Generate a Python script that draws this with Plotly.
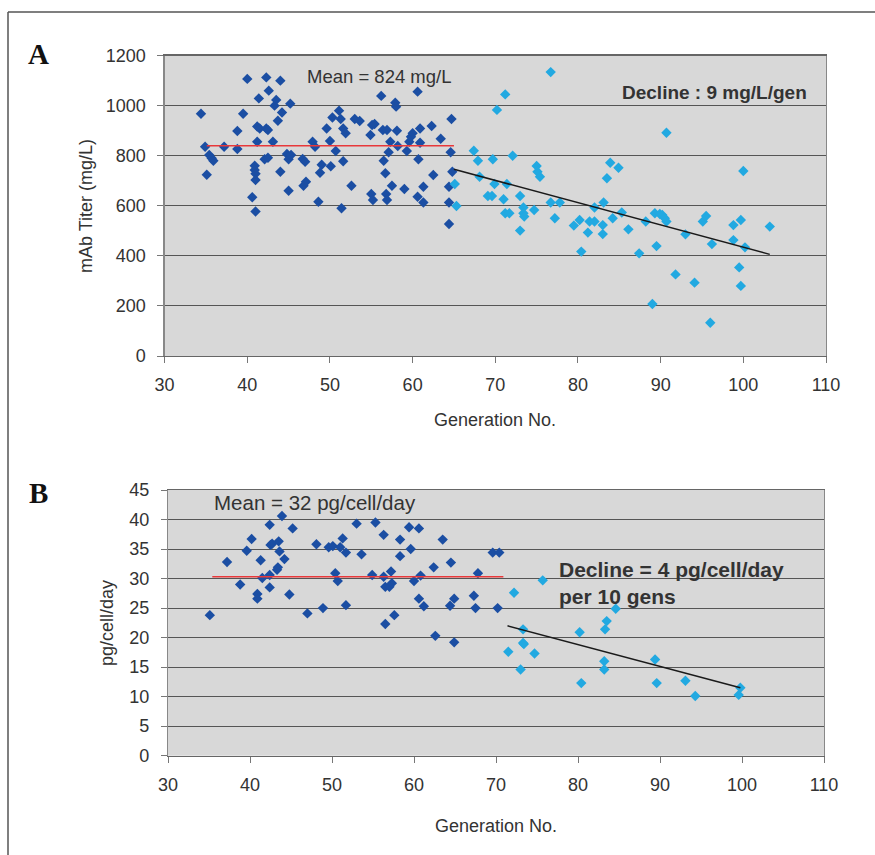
import plotly.graph_objects as go

# ---------------- Panel A data ----------------
gen_a_early = [34.4, 34.9, 35.1, 35.4, 35.7, 35.9, 37.2, 38.8, 38.8, 39.5, 40.0, 40.6, 41.0, 40.9, 40.9,
               41.0, 41.0, 41.2, 41.5, 41.2, 41.4, 42.3, 42.3, 42.5, 42.6, 42.1, 42.5, 43.1, 43.3, 43.5,
               43.7, 44.0, 44.2, 44.0, 44.8, 45.0, 45.3, 45.0, 45.2, 46.7, 47.0, 46.8, 47.1, 47.9, 48.2,
               48.6, 48.8, 49.0, 49.6, 50.0, 50.3, 50.7, 50.1, 51.1, 51.3, 51.6, 51.9, 51.6, 51.4, 52.6,
               53.0, 53.6, 54.9, 55.1, 55.4, 56.2, 56.4, 56.9, 55.0, 55.2, 56.5, 56.7, 56.8, 56.9, 57.3,
               57.1, 57.5, 57.9, 58.0, 58.1, 58.2, 59.0, 59.3, 59.6, 59.8, 60.0, 60.6, 60.9, 60.9, 60.7,
               60.6, 61.3, 61.3, 62.3, 62.5, 63.4, 64.7, 64.6, 64.8, 64.4, 64.4, 64.4]
titer_a_early = [968, 836, 724, 803, 790, 780, 836, 827, 899, 968, 1107, 634, 577, 760, 743,
                 728, 703, 917, 909, 856, 1029, 1113, 909, 903, 1060, 786, 792, 856, 1000, 1023,
                 940, 1100, 973, 736, 807, 786, 803, 660, 1008, 787, 776, 680, 696, 856, 836,
                 616, 732, 764, 909, 859, 953, 819, 758, 980, 947, 909, 890, 778, 590, 680,
                 947, 939, 883, 923, 927, 1039, 903, 903, 647, 623, 780, 730, 647, 623, 856,
                 814, 680, 1012, 996, 900, 839, 667, 819, 856, 876, 890, 1056, 909, 852, 786,
                 636, 676, 613, 919, 723, 868, 947, 814, 736, 676, 613, 527]

gen_a_late = [65.1, 65.3, 67.4, 67.9, 68.1, 69.7, 69.9, 69.1, 69.6, 70.2, 71.2, 71.0, 71.2, 71.7, 71.4,
              72.1, 73.0, 73.0, 73.4, 73.4, 73.5, 74.7, 75.0, 75.1, 75.4, 76.7, 76.7, 77.2, 77.8, 79.5,
              80.2, 80.4, 81.2, 81.4, 82.0, 82.0, 83.0, 83.0, 83.1, 83.5, 83.9, 84.9, 84.2, 85.3, 86.1,
              87.4, 88.2, 89.3, 89.5, 89.0, 89.9, 90.2, 90.5, 90.7, 90.7, 91.8, 93.0, 94.1, 95.1, 95.5,
              96.2, 96.0, 98.8, 98.8, 99.5, 99.7, 99.7, 100.0, 100.2, 103.2]
titer_a_late = [687, 599, 820, 780, 716, 786, 687, 639, 639, 983, 1045, 626, 570, 570, 687,
                800, 639, 501, 593, 570, 557, 583, 759, 736, 716, 1134, 613, 550, 613, 521,
                543, 417, 493, 537, 537, 593, 487, 523, 613, 710, 772, 752, 550, 573, 506,
                410, 537, 570, 439, 208, 567, 563, 550, 537, 892, 326, 486, 293, 537, 559,
                447, 133, 523, 463, 354, 543, 280, 739, 434, 517]

mean_a_x = [35.1, 65.0]
mean_a_y = [840, 840]
trend_a_x = [65.0, 103.2]
trend_a_y = [746, 406]

# ---------------- Panel B data ----------------
gen_b_early = [35.1, 37.2, 38.8, 39.6, 40.2, 40.9, 40.9, 41.3, 41.5, 42.4, 42.5, 42.7, 42.4, 42.4, 43.3,
               43.4, 43.5, 43.6, 43.9, 44.2, 44.8, 45.2, 47.0, 48.1, 48.9, 49.6, 50.1, 50.4, 50.7, 51.0,
               51.3, 51.7, 51.7, 53.0, 53.6, 54.9, 55.3, 56.3, 56.3, 56.5, 56.5, 57.0, 57.2, 57.3, 57.6,
               58.3, 58.3, 59.4, 59.6, 60.0, 60.6, 60.8, 60.6, 61.2, 62.4, 62.6, 63.5, 64.5, 64.4, 64.9,
               64.9, 67.3, 67.5, 67.8, 69.6, 70.4, 70.2]
qp_b_early = [23.8, 32.8, 29.0, 34.7, 36.7, 27.4, 26.6, 33.1, 30.1, 39.1, 35.7, 35.9, 30.6, 28.5, 31.5,
              31.9, 36.3, 34.6, 40.6, 33.3, 27.3, 38.5, 24.1, 35.8, 25.0, 35.3, 35.5, 30.9, 29.6, 35.3,
              36.8, 34.4, 25.5, 39.3, 34.1, 30.6, 39.5, 37.4, 30.3, 28.6, 22.3, 28.6, 31.2, 29.2, 23.8,
              36.6, 33.8, 38.7, 35.0, 29.6, 38.5, 30.5, 26.6, 25.3, 31.9, 20.3, 36.6, 32.7, 25.4, 26.6,
              19.2, 27.1, 25.0, 30.9, 34.4, 34.4, 25.0]

gen_b_late = [75.7, 72.2, 73.3, 73.3, 73.4, 71.5, 74.7, 73.0, 80.2, 80.4, 84.6, 83.5, 83.3, 83.2, 83.2,
              89.4, 89.6, 93.1, 94.3, 99.8, 99.6]
qp_b_late = [29.7, 27.6, 21.4, 19.1, 18.9, 17.6, 17.3, 14.6, 20.9, 12.3, 24.9, 22.8, 21.4, 16.0, 14.6,
             16.3, 12.3, 12.7, 10.1, 11.5, 10.3]

mean_b_x = [35.4, 70.9]
mean_b_y = [30.3, 30.3]
trend_b_x = [71.4, 99.8]
trend_b_y = [22.0, 11.5]

x_ticks = [30, 40, 50, 60, 70, 80, 90, 100, 110]
y_ticks_a = [0, 200, 400, 600, 800, 1000, 1200]
y_ticks_b = [0, 5, 10, 15, 20, 25, 30, 35, 40, 45]

DARK = "#1b4ea3"
LIGHT = "#22a9e1"
FONT = "Liberation Sans, Arial, sans-serif"
W, H = 875, 855

fig = go.Figure()

def marker(color):
    return dict(symbol="diamond", size=8, color=color, line=dict(width=0))

fig.add_trace(go.Scatter(x=gen_a_early, y=titer_a_early, mode="markers", marker=marker(DARK),
                         xaxis="x", yaxis="y", showlegend=False))
fig.add_trace(go.Scatter(x=gen_a_late, y=titer_a_late, mode="markers", marker=marker(LIGHT),
                         xaxis="x", yaxis="y", showlegend=False))
fig.add_trace(go.Scatter(x=mean_a_x, y=mean_a_y, mode="lines", line=dict(color="#e8383a", width=1.6),
                         xaxis="x", yaxis="y", showlegend=False))
fig.add_trace(go.Scatter(x=trend_a_x, y=trend_a_y, mode="lines", line=dict(color="#1a1a1a", width=1.5),
                         xaxis="x", yaxis="y", showlegend=False))

fig.add_trace(go.Scatter(x=gen_b_early, y=qp_b_early, mode="markers", marker=marker(DARK),
                         xaxis="x2", yaxis="y2", showlegend=False))
fig.add_trace(go.Scatter(x=gen_b_late, y=qp_b_late, mode="markers", marker=marker(LIGHT),
                         xaxis="x2", yaxis="y2", showlegend=False))
fig.add_trace(go.Scatter(x=mean_b_x, y=mean_b_y, mode="lines", line=dict(color="#e8383a", width=1.6),
                         xaxis="x2", yaxis="y2", showlegend=False))
fig.add_trace(go.Scatter(x=trend_b_x, y=trend_b_y, mode="lines", line=dict(color="#1a1a1a", width=1.5),
                         xaxis="x2", yaxis="y2", showlegend=False))

tickfont = dict(family=FONT, size=18, color="#333333")

def xaxis(domain, anchor):
    return dict(domain=domain, anchor=anchor, range=[30, 110], tickvals=x_ticks,
                showgrid=False, zeroline=False, showline=True, linecolor="#666666", linewidth=1.2,
                mirror=True, ticks="outside", ticklen=6, tickcolor="#777777",
                tickfont=tickfont, ticklabelstandoff=6, fixedrange=True)

def yaxis(domain, anchor, rng, vals):
    return dict(domain=domain, anchor=anchor, range=rng, tickvals=vals,
                showgrid=True, gridcolor="#555555", gridwidth=1, zeroline=False,
                showline=True, linecolor="#888888", linewidth=1.2, mirror=True,
                ticks="outside", ticklen=6, tickcolor="#777777",
                tickfont=tickfont, ticklabelstandoff=8, fixedrange=True)

fig.update_layout(
    width=W, height=H,
    margin=dict(l=0, r=0, t=0, b=0, autoexpand=False),
    paper_bgcolor="white",
    plot_bgcolor="#d8d8d8",
    xaxis=xaxis([164.6 / W, 826 / W], "y"),
    yaxis=yaxis([1 - 356 / H, 1 - 55.6 / H], "x", [0, 1200], y_ticks_a),
    xaxis2=xaxis([168 / W, 824 / W], "y2"),
    yaxis2=yaxis([1 - 755.7 / H, 1 - 490 / H], "x2", [0, 45], y_ticks_b),
)

def ann(text, x, y, size=18, bold=False, xref="paper", yref="paper", xanchor="center",
        yanchor="middle", angle=0, family=FONT, color="#333333", align="center"):
    if bold:
        text = "<b>" + text + "</b>"
    return dict(text=text, x=x, y=y, xref=xref, yref=yref, xanchor=xanchor, yanchor=yanchor,
                showarrow=False, textangle=angle, align=align,
                font=dict(family=family, size=size, color=color))

serif = "Liberation Serif, Times New Roman, serif"
annotations = [
    ann("A", 38 / W, 1 - 54 / H, size=29, bold=True, family=serif, color="#111111"),
    ann("B", 38 / W, 1 - 493 / H, size=29, bold=True, family=serif, color="#111111"),
    ann("mAb Titer (mg/L)", 86 / W, 1 - 206 / H, angle=-90),
    ann("Generation No.", 495 / W, 1 - 420 / H),
    ann("pg/cell/day", 107 / W, 1 - 623 / H, angle=-90),
    ann("Generation No.", 496 / W, 1 - 826 / H),
    ann("Mean = 824 mg/L", 56.0, 1115, size=18.5, xref="x", yref="y"),
    ann("Decline : 9 mg/L/gen", 96.5, 1051, size=19, bold=True, xref="x", yref="y"),
    ann("Mean = 32 pg/cell/day", 47.9, 42.8, size=20.5, xref="x2", yref="y2"),
    ann("Decline = 4 pg/cell/day<br>per 10 gens", 77.4, 29.2, size=21, bold=True,
        xref="x2", yref="y2", xanchor="left", align="left"),
]
fig.update_layout(annotations=annotations)

# outer frame of the figure panel
fig.update_layout(shapes=[
    dict(type="line", xref="paper", yref="paper", x0=8 / W, x1=1.0, y0=1 - 12 / H, y1=1 - 12 / H,
         line=dict(color="#555555", width=1.5)),
    dict(type="line", xref="paper", yref="paper", x0=8 / W, x1=8 / W, y0=0, y1=1 - 12 / H,
         line=dict(color="#555555", width=1.5)),
])

fig.write_html(
    "out.html",
    config={"displayModeBar": False, "staticPlot": True},
    post_script="document.body.style.margin='0px';document.body.style.overflow='hidden';",
)
